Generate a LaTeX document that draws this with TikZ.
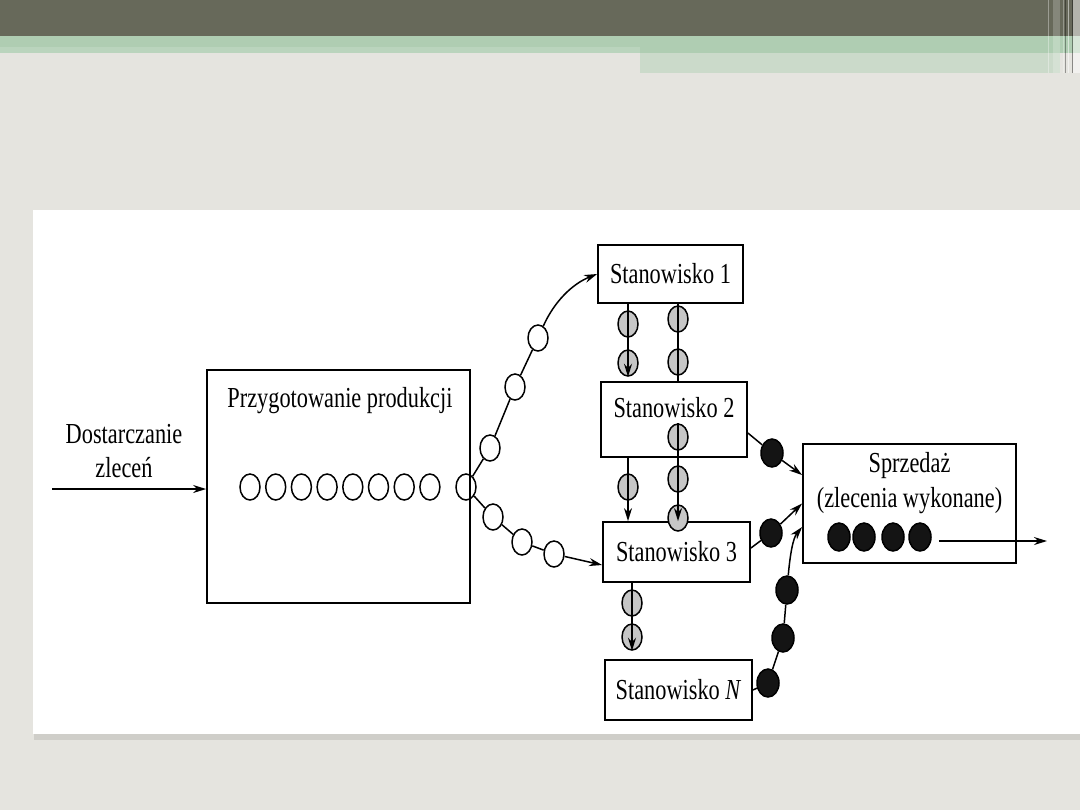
\documentclass[tikz,border=0pt]{standalone}
\usepackage{fontspec}
\setmainfont{Liberation Serif}[FakeStretch=0.77]
\usetikzlibrary{arrows.meta, positioning, shapes.geometric}
\definecolor{slidebg}{HTML}{E5E4DF}
\definecolor{barolive}{HTML}{67695A}
\definecolor{bargreen}{HTML}{AFCDB2}
\definecolor{barpale}{HTML}{CBDACA}
\definecolor{panelshadow}{HTML}{CFCEC9}

\begin{document}
\begin{tikzpicture}[
x=0.5pt, y=-0.5pt,
font=\fontsize{14.5}{17}\selectfont,
box/.style={draw, line width=0.9pt, fill=white, inner sep=2pt},
job/.style={draw, ellipse, line width=0.75pt, inner sep=0pt, minimum width=10pt, minimum height=13pt, fill=white},
wip/.style={job, fill=gray!45},
ready/.style={job, fill=black!92, minimum width=11pt, minimum height=14pt},
conn/.style={line width=0.75pt},
arrow/.style={-{Stealth[length=6.5pt, width=4pt]}, line width=0.75pt}
]
\useasboundingbox (0,0) rectangle (1080,810);
\fill[slidebg] (0,0) rectangle (1080,810);
\fill[barolive] (0,0) rectangle (1080,36);
\fill[bargreen] (0,36) rectangle (1080,53);
\fill[white, opacity=0.15] (0,47) rectangle (640,53);
\fill[barpale] (640,53) rectangle (1060,73);
\foreach \xa/\xb/\tint/\op in {1048/1049/white/0.35, 1053/1060/white/0.2, 1063/1064/white/0.3,
  1065/1066/black/0.35, 1068/1069/white/0.5, 1072/1073/black/0.4, 1073/1080/white/0.5}
  \fill[\tint, opacity=\op] (\xa,0) rectangle (\xb,73);
\fill[panelshadow] (34,734) rectangle (1080,740);
\fill[white] (33,210) rectangle (1080,734);

\node[box, minimum width=131.5pt, minimum height=116.5pt] (prep) at (338.5,486.5) {};
\node (preptitle) at (340,401) {Przygotowanie produkcji};
\node[align=center] (feed) at (124,451) {Dostarczanie\\zleceń};
\coordinate (src) at (52,489);
\foreach \i in {1,...,8}
  \node[job] (q\i) at ({250+25.7*(\i-1)},487) {};
\node[job, fill=none] (q9) at (466,487) {};

\node[box, minimum width=72.5pt, minimum height=29pt] (s1) at (670.5,274) {Stanowisko 1};
\node[box, minimum width=73pt, minimum height=37.5pt, text depth=12pt] (s2) at (674,419.5) {Stanowisko 2};
\node[box, minimum width=73.5pt, minimum height=30pt] (s3) at (676.5,552) {Stanowisko 3};
\node[box, minimum width=73.5pt, minimum height=30pt] (sN) at (678.5,690) {Stanowisko \textit{N}};
\node[box, minimum width=106.5pt, minimum height=59.5pt] (sale) at (909.5,503.5) {};
\node[align=center, font=\fontsize{14.5}{17.5}\selectfont] (saletitle) at (909.5,483) {Sprzedaż\\(zlecenia wykonane)};
\node[ready] (z1) at (839,537) {};
\node[ready] (z2) at (864,537) {};
\node[ready] (z3) at (893,537) {};
\node[ready] (z4) at (920,537) {};
\coordinate (exit) at (1047,541);

\node[job] (u1) at (490,448) {};
\node[job] (u2) at (515,387) {};
\node[job] (u3) at (538,338) {};
\node[job] (l1) at (493,517) {};
\node[job] (l2) at (522,542) {};
\node[job] (l3) at (554,554) {};

\node[wip] (a1) at (628,324) {};
\node[wip] (a2) at (628,363) {};
\node[wip] (b1) at (628,487) {};
\node[wip] (c1) at (678,319) {};
\node[wip] (c2) at (678,362) {};
\node[wip] (c3) at (678,437) {};
\node[wip] (c4) at (678,479) {};
\node[wip] (c5) at (678,518) {};
\node[wip] (d1) at (632,603) {};
\node[wip] (d2) at (632,637) {};

\node[ready] (k1) at (772,453) {};
\node[ready] (k2) at (771,533) {};
\node[ready] (k3) at (768,683) {};
\node[ready] (k4) at (783,638) {};
\node[ready] (k5) at (787,590) {};

\draw[arrow] (src) -- (src -| prep.west);
\draw[conn] (q9) -- (u1) -- (u2) -- (u3);
\draw[arrow] (u3) .. controls (554,302) and (572,284) .. (s1.west);
\draw[conn] (q9) -- (l1) -- (l2) -- (l3);
\draw[arrow] (l3) -- ([yshift=-6.5pt]s3.west);

\draw[arrow] (s1.south -| a1) -- (a2.south);
\draw[conn] (s1.south -| c1) -- (s2.north -| c1);
\draw[arrow] (c3.north) -- (s3.north -| c3);
\draw[arrow] (s2.south -| b1) -- (s3.north -| b1);
\draw[arrow] (s3.south -| d1) -- (d2.south);

\draw[conn] ([yshift=-6.75pt]s2.east) -- (k1);
\draw[arrow] (k1) -- ([yshift=14.25pt]sale.west);
\draw[conn] ([yshift=2pt]s3.east) -- (k2);
\draw[arrow] (k2) -- (sale.west);
\draw[conn] (sN.east) -- (k3) -- (k4) -- (k5);
\draw[arrow] (k5) .. controls (790,555) and (793,538) .. ([yshift=-11.75pt]sale.west);
\draw[arrow, shorten <=3.5pt] (z4.east |- exit) -- (exit);
\end{tikzpicture}
\end{document}
